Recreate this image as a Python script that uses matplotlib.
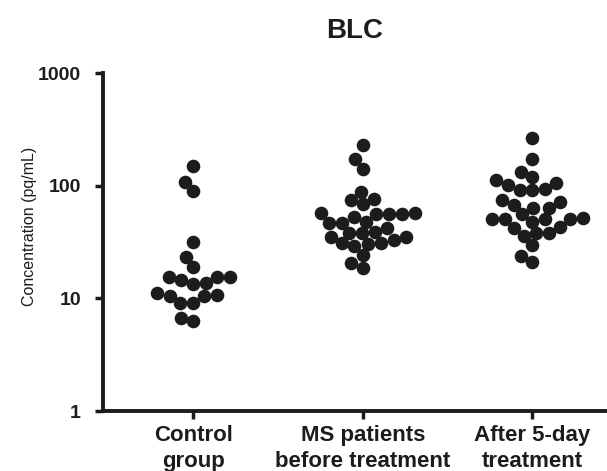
import matplotlib
matplotlib.use("Agg")
import matplotlib.pyplot as plt
import seaborn as sns
import numpy as np
import pandas as pd

# values (pg/mL)
control = [150, 109, 90, 31.8, 23.4, 19.0, 15.5, 15.4, 15.5, 13.8, 13.3, 14.5,
           10.5, 11.2, 9.2, 9.2, 10.5, 10.7, 6.3, 6.65]
ms_before = [229, 171, 141, 88, 77, 74.5, 68.7, 55.6, 57.5, 55.6, 55.6, 56.8,
             53, 47.8, 46.9, 46.9, 41.8, 39, 38.2, 37.7, 31.1, 35.2, 35.2, 30.3,
             29.1, 31.1, 32.9, 24.2, 18.7, 20.7]
after_5day = [263, 171, 133, 120, 101, 112, 91.4, 105, 91.4, 92.7, 72, 74.5,
              63.7, 63.7, 67.3, 56, 51.3, 50.2, 41.8, 47.8, 50.2, 50.2, 50.2,
              42.7, 37.7, 35.7, 38.2, 29.7, 21.1, 23.7]
groups = ["Control\ngroup", "MS patients\nbefore treatment", "After 5-day\ntreatment"]
y_ticks = [1, 10, 100, 1000]

df = pd.DataFrame({
    "group": [groups[0]] * len(control) + [groups[1]] * len(ms_before) + [groups[2]] * len(after_5day),
    "value": control + ms_before + after_5day,
})

plt.rcParams["font.family"] = ["Liberation Sans", "DejaVu Sans"]
ink = "#1c1c1c"

fig = plt.figure(figsize=(6.07, 4.71), dpi=100)
ax = fig.add_axes([0.170, 0.127, 0.830, 0.718])
ax.set_yscale("log")
ax.set_ylim(1, 1000)
ax.set_xlim(-0.531, 2.44)

# swarm laid out with slightly smaller dots so they overlap like the original
sns.swarmplot(data=df, x="group", y="value", order=groups, ax=ax, color=ink,
              size=8.8, linewidth=0)
ax.set_ylim(1, 1000)
ax.set_xlim(-0.531, 2.44)
fig.canvas.draw()
pts = np.vstack([c.get_offsets() for c in ax.collections])
for c in list(ax.collections):
    c.remove()
ax.scatter(pts[:, 0], pts[:, 1], s=9.8 ** 2, color=ink, linewidths=0, zorder=3)

ax.set_yticks(y_ticks)
ax.set_yticklabels([str(t) for t in y_ticks], fontsize=14, fontweight="bold", color=ink)
ax.minorticks_off()
ax.set_xticks(range(3))
ax.set_xticklabels(groups, fontsize=16, fontweight="bold", color=ink, linespacing=1.3)
ax.tick_params(axis="both", length=6, width=2.5, color=ink)
ax.tick_params(axis="y", pad=10)
ax.tick_params(axis="x", pad=4)
for side in ["top", "right"]:
    ax.spines[side].set_visible(False)
for side in ["left", "bottom"]:
    ax.spines[side].set_linewidth(2.8)
    ax.spines[side].set_color(ink)
ax.set_xlabel("")
ax.set_ylabel("Concentration (pq/mL)", fontsize=11.5, color=ink)
ax.yaxis.set_label_coords(-0.132, 0.547)
ax.set_title("BLC", fontsize=20, fontweight="bold", color=ink, pad=25)

fig.savefig("out.png", dpi=100)
